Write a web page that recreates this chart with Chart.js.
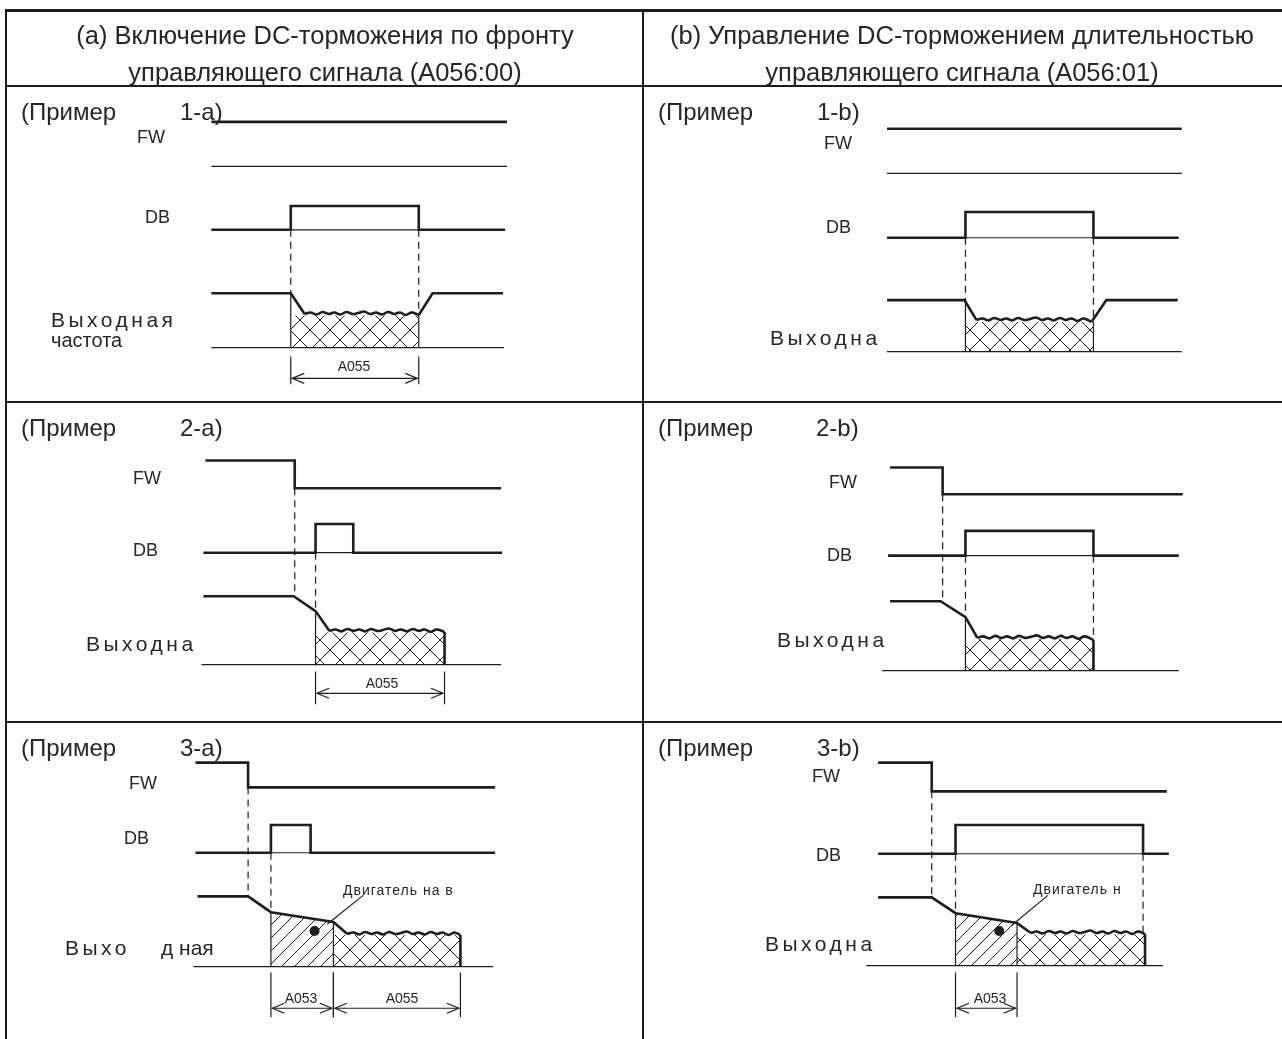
<!DOCTYPE html>
<html>
<head>
<meta charset="utf-8">
<script src="https://cdn.jsdelivr.net/npm/chart.js@4.4.1/dist/chart.umd.min.js"></script>
<style>
html, body { margin: 0; padding: 0; background: #fff; }
#page { position: relative; width: 1282px; height: 1039px; overflow: hidden; font-family: "Liberation Sans", Arial, sans-serif; color: #262626; }
#c { position: absolute; left: 0; top: 0; }
.rule { position: absolute; background: #1c1c1c; }
.t { position: absolute; white-space: pre; line-height: 1; transform: translateY(-50%); }
.c { transform: translate(-50%, -50%); }
.hd { font-size: 25.5px; }
.ex { font-size: 24px; }
.sig { font-size: 18px; }
.out { font-size: 21px; letter-spacing: 3.5px; }
.dim { font-size: 14px; }
.note { font-size: 14px; letter-spacing: 1px; }
</style>
</head>
<body>
<div id="page">
  <canvas id="c" width="1282" height="1039"></canvas>

  <!-- table rules -->
  <div class="rule" style="left:5px;top:9px;width:1277px;height:3px"></div>
  <div class="rule" style="left:5px;top:85px;width:1277px;height:2px"></div>
  <div class="rule" style="left:5px;top:401px;width:1277px;height:2px"></div>
  <div class="rule" style="left:5px;top:721px;width:1277px;height:2px"></div>
  <div class="rule" style="left:5px;top:9px;width:2px;height:1030px"></div>
  <div class="rule" style="left:642px;top:9px;width:2px;height:1030px"></div>

  <!-- headers -->
  <div class="t c hd" style="left:325px;top:36px">(a) Включение DC-торможения по фронту</div>
  <div class="t c hd" style="left:325px;top:73px">управляющего сигнала (A056:00)</div>
  <div class="t c hd" style="left:962px;top:36px">(b) Управление DC-торможением длительностью</div>
  <div class="t c hd" style="left:962px;top:73px">управляющего сигнала (A056:01)</div>

  <!-- example titles -->
  <div class="t ex" style="left:21px;top:112px">(Пример</div><div class="t ex" style="left:180px;top:112px">1-a)</div>
  <div class="t ex" style="left:658px;top:112px">(Пример</div><div class="t ex" style="left:817px;top:112px">1-b)</div>
  <div class="t ex" style="left:21px;top:428px">(Пример</div><div class="t ex" style="left:180px;top:428px">2-a)</div>
  <div class="t ex" style="left:658px;top:428px">(Пример</div><div class="t ex" style="left:816px;top:428px">2-b)</div>
  <div class="t ex" style="left:21px;top:748px">(Пример</div><div class="t ex" style="left:180px;top:748px">3-a)</div>
  <div class="t ex" style="left:658px;top:748px">(Пример</div><div class="t ex" style="left:817px;top:748px">3-b)</div>

  <!-- signal names -->
  <div class="t sig" style="left:137px;top:137px">FW</div>
  <div class="t sig" style="left:145px;top:217px">DB</div>
  <div class="t sig" style="left:824px;top:143px">FW</div>
  <div class="t sig" style="left:826px;top:227px">DB</div>
  <div class="t sig" style="left:133px;top:478px">FW</div>
  <div class="t sig" style="left:133px;top:550px">DB</div>
  <div class="t sig" style="left:829px;top:482px">FW</div>
  <div class="t sig" style="left:827px;top:555px">DB</div>
  <div class="t sig" style="left:129px;top:783px">FW</div>
  <div class="t sig" style="left:124px;top:838px">DB</div>
  <div class="t sig" style="left:812px;top:776px">FW</div>
  <div class="t sig" style="left:816px;top:855px">DB</div>

  <!-- output labels -->
  <div class="t out" style="left:51px;top:319px">Выходная</div>
  <div class="t" style="left:51px;top:340px;font-size:20px">частота</div>
  <div class="t out" style="left:770px;top:337px">Выходна</div>
  <div class="t out" style="left:86px;top:643px">Выходна</div>
  <div class="t out" style="left:777px;top:639px">Выходна</div>
  <div class="t out" style="left:65px;top:947px">Выхо</div><div class="t" style="left:161px;top:947px;font-size:21px">д ная</div>
  <div class="t out" style="left:765px;top:943px">Выходна</div>

  <!-- dimension labels -->
  <div class="t c dim" style="left:354px;top:366px">A055</div>
  <div class="t c dim" style="left:382px;top:683px">A055</div>
  <div class="t c dim" style="left:301px;top:998px">A053</div>
  <div class="t c dim" style="left:402px;top:998px">A055</div>
  <div class="t c dim" style="left:990px;top:998px">A053</div>

  <!-- notes -->
  <div class="t note" style="left:343px;top:890px">Двигатель на в</div>
  <div class="t note" style="left:1033px;top:889px">Двигатель н</div>
</div>

<script>
const INK = '#1e1e1e';
const THICK = 2.6;
const THIN = 1.2;

// ---------- Пример 1-a ----------
const fw1a    = [[208,118],[506,118]];
const fwRef1a = [[208,163],[506,163]];
const db1a    = [[208,227],[288,227],[288,203],[417,203],[417,227],[504,227]];
const dbRef1a = [[288,227],[417,227]];
const out1a   = [[208,291],[288,291],[302,312]];
const rip1a   = [[302,312],[308,310.5],[314,312.5],[320,310],[326,312],[332,310.5],[338,312.5],[344,310],[350,312],[356,311],[362,309.5],[368,312],[374,310.5],[380,312.5],[386,310],[392,312],[398,310.5],[404,313],[410,310.5],[417,313]];
const end1a   = [[417,313],[431,291],[502,291]];
const base1a  = [[208,346],[503,346]];
const guide1a = [[288,227,291],[417,227,313]];
const edge1a  = [[288,291,346],[417,313,346]];
const cross1a = [[288,313.5],[417,313.5]];
const dim1a   = [[288,417,377,355,383]];

// ---------- Пример 1-b ----------
const fw1b    = [[889,125],[1186,125]];
const fwRef1b = [[889,170],[1186,170]];
const db1b    = [[889,235],[968,235],[968,209],[1097,209],[1097,235],[1183,235]];
const dbRef1b = [[968,235],[1097,235]];
const out1b   = [[889,298],[967,298],[979,318]];
const rip1b   = [[979,318],[985,316.5],[991,318.5],[997,316],[1003,318],[1009,316.5],[1015,318.5],[1021,316],[1027,318],[1033,317],[1039,315.5],[1045,318],[1051,316.5],[1057,318.5],[1063,316],[1069,318],[1075,316.5],[1081,319],[1087,316.5],[1095,320]];
const end1b   = [[1095,320],[1110,298],[1182,298]];
const base1b  = [[889,350],[1186,350]];
const guide1b = [[968,235,298],[1097,235,320]];
const edge1b  = [[968,298,350],[1097,320,350]];
const cross1b = [[968,320],[1097,320]];

// ---------- Пример 2-a ----------
const fw2a    = [[202,460],[292,460],[292,488],[500,488]];
const db2a    = [[200,553],[313,553],[313,524],[351,524],[351,553],[501,553]];
const dbRef2a = [[313,553],[351,553]];
const out2a   = [[200,597],[291,597],[313,612],[327,632]];
const rip2a   = [[327,632],[333,630.5],[339,632.5],[345,630],[351,632],[357,630.5],[363,632.5],[369,630],[375,632],[381,631],[387,629.5],[393,632],[399,630.5],[405,632.5],[411,630],[417,632],[423,630.5],[429,633],[435,630.5],[443,633]];
const end2a   = [[443,633],[443,666]];
const base2a  = [[198,666],[500,666]];
const guide2a = [[292,488,597],[313,553,612]];
const edge2a  = [[313,612,666]];
const cross2a = [[313,633.5],[443,633.5]];
const dim2a   = [[313,443,695,673,706]];

// ---------- Пример 2-b ----------
const fw2b    = [[892,467],[945,467],[945,494],[1187,494]];
const db2b    = [[890,556],[968,556],[968,531],[1097,531],[1097,556],[1183,556]];
const dbRef2b = [[968,556],[1097,556]];
const out2b   = [[892,602],[943,602],[968,618],[980,639]];
const rip2b   = [[980,639],[986,637.5],[992,639.5],[998,637],[1004,639],[1010,637.5],[1016,639.5],[1022,637],[1028,639],[1034,638],[1040,636.5],[1046,639],[1052,637.5],[1058,639.5],[1064,637],[1070,639],[1076,637.5],[1082,640],[1088,637.5],[1097,641]];
const end2b   = [[1097,641],[1097,672]];
const base2b  = [[884,672],[1183,672]];
const guide2b = [[945,494,602],[968,556,618],[1097,556,641]];
const edge2b  = [[968,618,672]];
const cross2b = [[968,640.5],[1097,640.5]];

// ---------- Пример 3-a ----------
const fw3a    = [[192,765],[245,765],[245,790],[494,790]];
const db3a    = [[192,856],[268,856],[268,828],[308,828],[308,856],[494,856]];
const dbRef3a = [[268,856],[308,856]];
const out3a   = [[194,900],[245,900],[268,916],[331,926],[345,938]];
const rip3a   = [[345,938],[351,936.5],[357,938.5],[363,936],[369,938],[375,936.5],[381,938.5],[387,936],[393,938],[399,937],[405,935.5],[411,938],[417,936.5],[423,938.5],[429,936],[435,938],[441,936.5],[447,939],[453,936.5],[459,939]];
const end3a   = [[459,939],[459,971]];
const base3a  = [[190,971],[492,971]];
const guide3a = [[245,790,900],[268,856,916]];
const edge3a  = [[268,916,971],[331,926,971]];
const slash3a = [[268,916],[331,926]];
const cross3a = [[331,939],[459,939]];
const dot3a   = [[312,935]];
const lead3a  = [[325,928],[361,899]];
const dim3a   = [[268,331,1013,977,1022],[331,459,1013,977,1022]];

// ---------- Пример 3-b ----------
const fw3b    = [[880,765],[934,765],[934,794],[1171,794]];
const db3b    = [[880,857],[958,857],[958,828],[1147,828],[1147,857],[1173,857]];
const dbRef3b = [[958,857],[1147,857]];
const out3b   = [[880,901],[934,901],[958,917],[1020,927],[1034,937]];
const rip3b   = [[1034,937],[1040,935.5],[1046,937.5],[1052,935],[1058,937],[1064,935.5],[1070,937.5],[1076,935],[1082,937],[1088,936],[1094,934.5],[1100,937],[1106,935.5],[1112,937.5],[1118,935],[1124,937],[1130,935.5],[1136,938],[1142,935.5],[1149,938]];
const end3b   = [[1149,938],[1149,970]];
const base3b  = [[868,970],[1167,970]];
const guide3b = [[934,794,901],[958,857,917],[1147,857,938]];
const edge3b  = [[958,917,970],[1020,927,970]];
const slash3b = [[958,917],[1020,927]];
const cross3b = [[1020,938.5],[1149,938.5]];
const dot3b   = [[1002,935]];
const lead3b  = [[1014,930],[1051,899]];
const dim3b   = [[958,1020,1013,977,1022]];


const canvas = document.getElementById('c');
const ctx = canvas.getContext('2d');

function makeCross() {
  const s = 20, c = document.createElement('canvas');
  c.width = s; c.height = s;
  const g = c.getContext('2d');
  g.strokeStyle = INK; g.lineWidth = 1;
  g.beginPath();
  g.moveTo(0, 0); g.lineTo(s, s);
  g.moveTo(s, 0); g.lineTo(0, s);
  g.stroke();
  return ctx.createPattern(c, 'repeat');
}
function makeSlash() {
  const s = 13, c = document.createElement('canvas');
  c.width = s; c.height = s;
  const g = c.getContext('2d');
  g.strokeStyle = INK; g.lineWidth = 1;
  g.beginPath();
  g.moveTo(-2, s + 2); g.lineTo(s + 2, -2);
  g.stroke();
  return ctx.createPattern(c, 'repeat');
}
const crossFill = makeCross();
const slashFill = makeSlash();

const datasets = [];
const pts = a => a.map(p => ({ x: p[0], y: p[1] }));

function addLine(a, w, dash, tension) {
  datasets.push({
    data: pts(a), borderColor: INK, borderWidth: w, borderDash: dash || [],
    borderCapStyle: 'butt', borderJoinStyle: 'miter',
    pointRadius: 0, fill: false, tension: tension || 0
  });
}
function addVerts(list, w, dash) {
  list.forEach(v => addLine([[v[0], v[1]], [v[0], v[2]]], w, dash));
}
function addFill(a, base, pattern) {
  datasets.push({ data: pts(a), borderWidth: 0, pointRadius: 0, fill: { value: base }, backgroundColor: pattern });
}
function addDims(list) {
  list.forEach(d => {
    addVerts([[d[0], d[3], d[4]], [d[1], d[3], d[4]]], THIN);
    datasets.push({ data: pts([[d[0] + 1.5, d[2]], [d[1] - 1.5, d[2]]]), borderColor: INK, borderWidth: THIN, pointRadius: 0, fill: false, arrows: true });
  });
}
function addDot(a) {
  datasets.push({ data: pts(a), showLine: false, pointRadius: 5, pointBackgroundColor: INK, pointBorderWidth: 0 });
}

// fills first so lines sit on top
addFill(cross1a, 346, crossFill);
addFill(cross1b, 350, crossFill);
addFill(cross2a, 666, crossFill);
addFill(cross2b, 672, crossFill);
addFill(cross3a, 971, crossFill);
addFill(cross3b, 970, crossFill);
addFill(slash3a, 971, slashFill);
addFill(slash3b, 970, slashFill);

[fwRef1a, fwRef1b, dbRef1a, dbRef1b, dbRef2a, dbRef2b, dbRef3a, dbRef3b,
 base1a, base1b, base2a, base2b, base3a, base3b, lead3a, lead3b].forEach(a => addLine(a, THIN));

[guide1a, guide1b, guide2a, guide2b, guide3a, guide3b].forEach(g => addVerts(g, THIN, [7, 5]));
[edge1a, edge1b, edge2a, edge2b, edge3a, edge3b].forEach(e => addVerts(e, THIN));

[fw1a, fw1b, fw2a, fw2b, fw3a, fw3b, db1a, db1b, db2a, db2b, db3a, db3b,
 out1a, out1b, out2a, out2b, out3a, out3b, end1a, end1b, end2a, end2b, end3a, end3b].forEach(a => addLine(a, THICK));

[rip1a, rip1b, rip2a, rip2b, rip3a, rip3b].forEach(a => addLine(a, THICK, null, 0.4));

[dim1a, dim2a, dim3a, dim3b].forEach(addDims);
addDot(dot3a);
addDot(dot3b);

const arrowHeads = {
  id: 'arrowHeads',
  afterDatasetsDraw(chart) {
    const c = chart.ctx;
    chart.data.datasets.forEach((d, i) => {
      if (!d.arrows) return;
      const p = chart.getDatasetMeta(i).data;
      const a = p[0], b = p[p.length - 1];
      c.save();
      c.strokeStyle = INK;
      c.lineWidth = THIN;
      c.beginPath();
      c.moveTo(a.x + 12, a.y - 5); c.lineTo(a.x, a.y); c.lineTo(a.x + 12, a.y + 5);
      c.moveTo(b.x - 12, b.y - 5); c.lineTo(b.x, b.y); c.lineTo(b.x - 12, b.y + 5);
      c.stroke();
      c.restore();
    });
  }
};

new Chart(canvas, {
  type: 'line',
  data: { datasets: datasets },
  options: {
    responsive: false,
    animation: false,
    devicePixelRatio: 1,
    layout: { padding: 0 },
    scales: {
      x: { type: 'linear', min: 0, max: 1282, display: false },
      y: { type: 'linear', min: 0, max: 1039, reverse: true, display: false }
    },
    plugins: { legend: { display: false }, tooltip: { enabled: false } }
  },
  plugins: [arrowHeads]
});
</script>
</body>
</html>
